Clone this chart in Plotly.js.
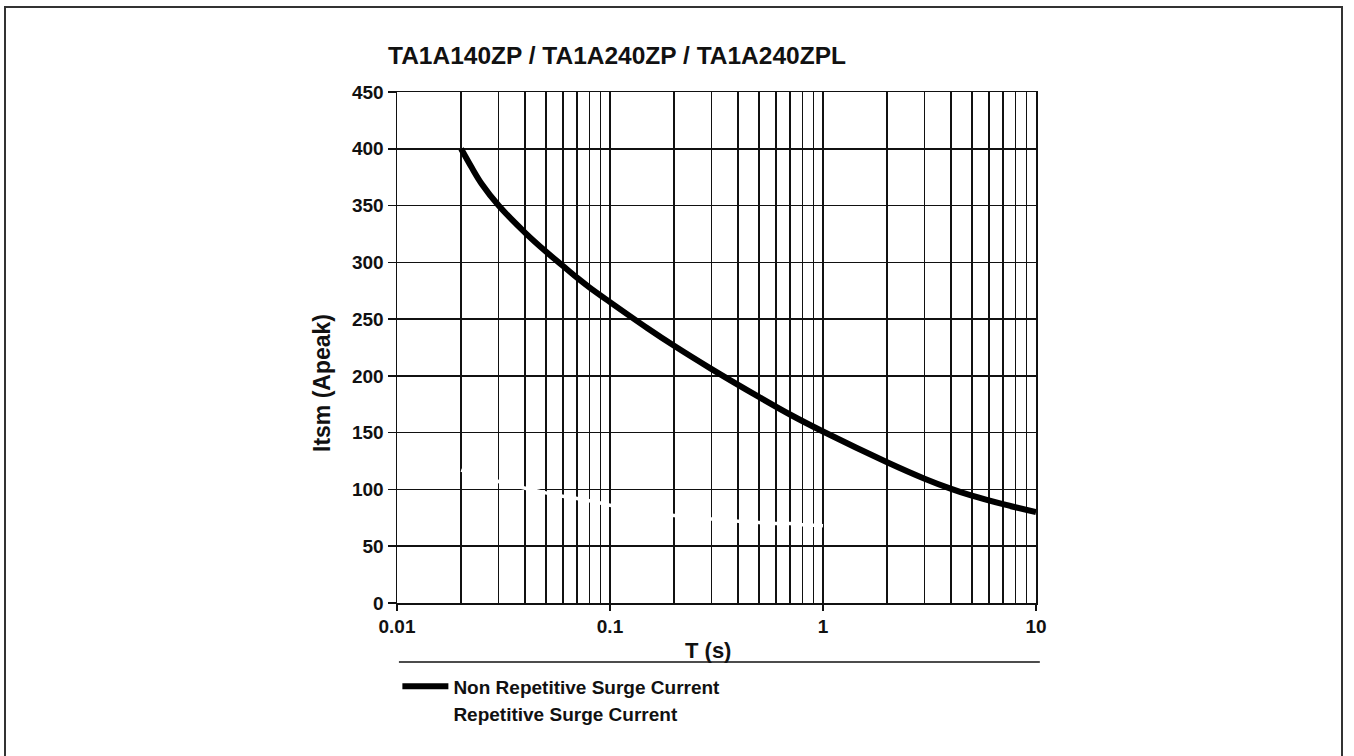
<!DOCTYPE html>
<html>
<head>
<meta charset="utf-8">
<script src="https://cdn.plot.ly/plotly-3.0.1.min.js"></script>
<style>
  html, body { margin: 0; padding: 0; background: #fff; }
  #frame { position: absolute; left: 4px; top: 6px; width: 1339px; height: 800px; border: 2px solid #333; box-sizing: border-box; }
  #chart { position: absolute; left: 0; top: 0; width: 1354px; height: 756px; }
</style>
</head>
<body>
<div id="frame"></div>
<div id="chart"></div>
<script>
// Non repetitive surge current (black curve)
const nonRepT = [0.02, 0.0225, 0.025, 0.03, 0.04, 0.05, 0.06, 0.07, 0.08, 0.1, 0.15, 0.2, 0.3, 0.5, 0.7, 1, 2, 3, 4, 5, 7, 10];
const nonRepI = [400, 383, 369, 350, 326, 309.5, 297, 286.5, 278, 265, 242, 226.5, 206, 181.5, 166, 151, 124, 109.5, 100.5, 94.5, 87, 80];
// Repetitive surge current (white curve)
const repT = [0.02, 0.03, 0.04, 0.05, 0.06, 0.07, 0.08, 0.09, 0.1, 0.2, 0.3, 0.4, 0.5, 0.6, 0.7, 0.8, 0.9, 1];
const repI = [117, 107, 101, 97, 94, 92, 90, 88, 86, 77, 74, 72, 71, 70, 70, 69, 68.5, 68];
// Axis ticks
const xMajorVals = [0.01, 0.1, 1, 10];
const xMajorText = ['0.01', '0.1', '1', '10'];
const xMinorVals = [0.02,0.03,0.04,0.05,0.06,0.07,0.08,0.09,0.2,0.3,0.4,0.5,0.6,0.7,0.8,0.9,2,3,4,5,6,7,8,9];
const yTickVals = [0, 50, 100, 150, 200, 250, 300, 350, 400, 450];
const chartTitle = 'TA1A140ZP / TA1A240ZP / TA1A240ZPL';
const xTitle = 'T (s)';
const yTitle = 'Itsm (Apeak)';
const seriesNames = ['Non Repetitive Surge Current', 'Repetitive Surge Current'];

const FONT = 'Liberation Sans, Arial, sans-serif';
const GRID = '#111';
const TXT = '#111';

const traces = [
  {
    x: nonRepT, y: nonRepI, type: 'scatter', mode: 'lines', name: '<b>' + seriesNames[0] + '</b>',
    line: { color: '#000', width: 6, shape: 'spline', smoothing: 1 }
  },
  {
    x: repT, y: repI, type: 'scatter', mode: 'lines', name: '<b>' + seriesNames[1] + '</b>',
    line: { color: '#fff', width: 3.5, shape: 'spline', smoothing: 0.8 }
  }
];

const layout = {
  width: 1354, height: 756,
  paper_bgcolor: 'rgba(0,0,0,0)', plot_bgcolor: '#fff',
  margin: { l: 397, r: 318, t: 92, b: 153 },
  font: { family: FONT, color: TXT },
  title: {
    text: '<b>' + chartTitle + '</b>',
    font: { family: FONT, size: 24.5, color: TXT },
    xref: 'container', x: 388/1354, xanchor: 'left',
    yref: 'container', y: 1 - 55/756, yanchor: 'middle'
  },
  xaxis: {
    type: 'log', range: [-2, 1],
    tickmode: 'array', tickvals: xMajorVals, ticktext: xMajorText.map(t => '<b>' + t + '</b>'),
    ticks: 'outside', ticklen: 6, tickwidth: 1.5, tickcolor: GRID,
    tickfont: { family: FONT, size: 19, color: TXT },
    showline: true, linecolor: GRID, linewidth: 1.5, mirror: true,
    showgrid: true, gridcolor: GRID, gridwidth: 1.5,
    minor: { tickmode: 'array', tickvals: xMinorVals, ticks: '', showgrid: true, gridcolor: GRID, gridwidth: 1.5 },
    zeroline: false
  },
  yaxis: {
    range: [0, 450],
    tickmode: 'array', tickvals: yTickVals, ticktext: yTickVals.map(v => '<b>' + v + '</b>'),
    ticks: 'outside', ticklen: 8, tickwidth: 1.5, tickcolor: GRID,
    tickfont: { family: FONT, size: 19, color: TXT },
    showline: true, linecolor: GRID, linewidth: 1.5, mirror: true,
    showgrid: true, gridcolor: GRID, gridwidth: 1.5,
    zeroline: false
  },
  annotations: [
    { text: '<b>' + xTitle + '</b>', xref: 'paper', yref: 'paper',
      x: (708 - 397) / 639, y: (603 - 650) / 511, xanchor: 'center', yanchor: 'middle',
      showarrow: false, font: { family: FONT, size: 22, color: TXT } },
    { text: '<b>' + yTitle + '</b>', xref: 'paper', yref: 'paper',
      x: (322 - 397) / 639, y: (603 - 383) / 511, xanchor: 'center', yanchor: 'middle',
      textangle: -90, showarrow: false, font: { family: FONT, size: 23, color: TXT } }
  ],
  showlegend: true,
  legend: {
    x: 0.0006, xanchor: 'left', y: -0.126, yanchor: 'top',
    orientation: 'v', bgcolor: 'rgba(0,0,0,0)', borderwidth: 0,
    font: { family: FONT, size: 19, color: TXT },
    itemwidth: 46, tracegroupgap: 0
  },
  shapes: [
    { type: 'line', xref: 'paper', yref: 'paper', x0: 0.003, x1: 1.006, y0: -0.1155, y1: -0.1155,
      line: { color: GRID, width: 1.5 } }
  ]
};

Plotly.newPlot('chart', traces, layout, { displayModeBar: false, staticPlot: true });
</script>
</body>
</html>
